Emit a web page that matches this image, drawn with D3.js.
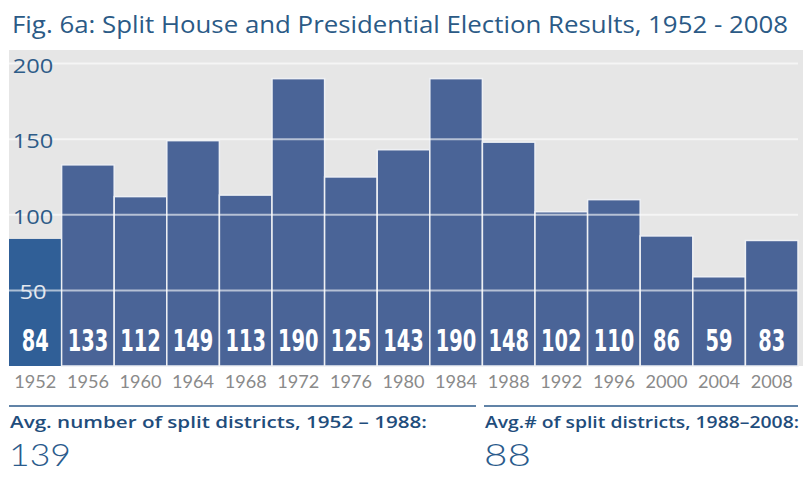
<!DOCTYPE html>
<html>
<head>
<meta charset="utf-8">
<script src="https://cdn.jsdelivr.net/npm/d3@7/dist/d3.min.js"></script>
<style>
  html, body { margin: 0; padding: 0; background: #ffffff; }
  svg { display: block; }
</style>
</head>
<body>
<svg id="chart" width="803" height="477"></svg>
<script>
// Split House / Presidential districts by election year
const years  = ["1952","1956","1960","1964","1968","1972","1976","1980","1984","1988","1992","1996","2000","2004","2008"];
const splits = [84, 133, 112, 149, 113, 190, 125, 143, 190, 148, 102, 110, 86, 59, 83];
const yTicks = [50, 100, 150, 200];

const titleText = "Fig. 6a: Split House and Presidential Election Results, 1952 - 2008";
const summaryLabels = ["Avg. number of split districts, 1952 \u2013 1988:", "Avg.# of split districts, 1988\u20132008:"];
const summaryValues = [139, 88];

const svg = d3.select("#chart");
const W = 803;

const x = d3.scaleBand().domain(years).range([9, 798]).padding(0);
const y = d3.scaleLinear().domain([0, 200]).range([366, 63.5]);

// title
svg.append("text")
  .attr("x", 12).attr("y", 33)
  .attr("font-family", "'Open Sans', 'Noto Sans', sans-serif")
  .attr("font-size", 24)
  .attr("fill", "#2b5a86")
  .attr("textLength", 776)
  .attr("lengthAdjust", "spacingAndGlyphs")
  .text(titleText);

// plot background
svg.append("rect")
  .attr("x", 9).attr("y", 50)
  .attr("width", W - 9).attr("height", y(0) - 50)
  .attr("fill", "#e6e6e6");

// bars
svg.append("g").selectAll("rect")
  .data(splits)
  .join("rect")
  .attr("x", (d, i) => x(years[i]))
  .attr("y", d => y(d))
  .attr("width", x.bandwidth())
  .attr("height", d => y(0) - y(d))
  .attr("fill", (d, i) => i === 0 ? "#305f97" : "#4a6497")
  .attr("stroke", (d, i) => i === 0 ? "none" : "#eef0f4")
  .attr("stroke-width", 1.5);

// gridlines on top of bars
svg.append("g").selectAll("line")
  .data(yTicks)
  .join("line")
  .attr("x1", 9).attr("x2", 798)
  .attr("y1", d => y(d)).attr("y2", d => y(d))
  .attr("stroke", "#ffffff")
  .attr("stroke-opacity", 0.6)
  .attr("stroke-width", 2);

// y tick labels (light where they sit over the first bar)
svg.append("g").selectAll("text")
  .data(yTicks)
  .join("text")
  .attr("x", 33)
  .attr("y", d => y(d) + 9)
  .attr("text-anchor", "middle")
  .attr("font-family", "'Open Sans', 'Noto Sans', sans-serif")
  .attr("font-size", 20)
  .attr("font-weight", 500)
  .attr("fill", d => d < splits[0] ? "#e4e8ef" : "#2e5c88")
  .attr("textLength", d => String(d).length * 13.5)
  .attr("lengthAdjust", "spacingAndGlyphs")
  .text(d => d);

// value labels inside bars
svg.append("g").selectAll("text")
  .data(splits)
  .join("text")
  .attr("x", (d, i) => x(years[i]) + x.bandwidth() / 2)
  .attr("y", y(0) - 15)
  .attr("text-anchor", "middle")
  .attr("font-family", "'Liberation Sans Narrow', 'DejaVu Sans Condensed', 'DejaVu Sans', sans-serif")
  .attr("font-stretch", "condensed")
  .attr("font-weight", "bold")
  .attr("font-size", 30)
  .attr("fill", "#ffffff")
  .attr("textLength", d => String(d).length * 13.5)
  .attr("lengthAdjust", "spacingAndGlyphs")
  .text(d => d);

// year axis
const xAxis = svg.append("g")
  .attr("transform", `translate(0,${y(0)})`)
  .call(d3.axisBottom(x).tickSize(0).tickPadding(9));
xAxis.select(".domain").remove();
xAxis.selectAll("text")
  .attr("font-family", "'Lato', 'Open Sans', sans-serif")
  .attr("font-size", 18)
  .attr("fill", "#8a8a8a")
  .attr("textLength", 42)
  .attr("lengthAdjust", "spacingAndGlyphs");

// summary blocks
const blocks = [
  { x0: 9,   x1: 476, label: summaryLabels[0], value: summaryValues[0], w: 417, vw: 62 },
  { x0: 484, x1: 798, label: summaryLabels[1], value: summaryValues[1], w: 314, vw: 47 }
];
const sb = svg.append("g").selectAll("g").data(blocks).join("g");
sb.append("line")
  .attr("x1", d => d.x0).attr("x2", d => d.x1)
  .attr("y1", 406).attr("y2", 406)
  .attr("stroke", "#2d5a8a").attr("stroke-width", 1.5);
sb.append("text")
  .attr("x", d => d.x0 + 1).attr("y", 428)
  .attr("font-family", "'Open Sans', 'Noto Sans', sans-serif")
  .attr("font-size", 17)
  .attr("font-weight", 600)
  .attr("fill", "#1f4d7c")
  .attr("textLength", d => d.w)
  .attr("lengthAdjust", "spacingAndGlyphs")
  .text(d => d.label);
sb.append("text")
  .attr("x", d => d.x0).attr("y", 466)
  .attr("font-family", "'Lato', 'Open Sans', sans-serif")
  .attr("font-size", 32)
  .attr("font-weight", 300)
  .attr("fill", "#2a5b8c")
  .attr("textLength", d => d.vw)
  .attr("lengthAdjust", "spacingAndGlyphs")
  .text(d => d.value);
</script>
</body>
</html>
